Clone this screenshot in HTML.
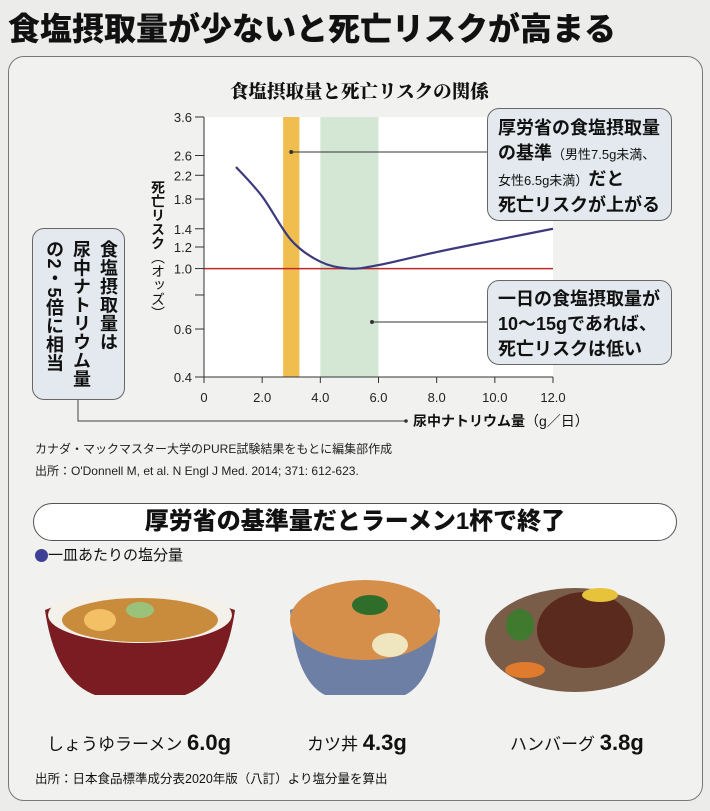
<!DOCTYPE html>
<html><head><meta charset="utf-8">
<style>
html,body{margin:0;padding:0}
body{width:710px;height:811px;background:#ececeb;position:relative;overflow:hidden;font-family:"Liberation Sans","Noto Sans CJK JP",sans-serif;color:#111}
.abs{position:absolute}
.box{position:absolute;background:#e3e9ee;border:1.5px solid #666;border-radius:12px;box-sizing:border-box}
</style></head>
<body>
<div class="abs" style="left:8px;top:9px;font-size:32px;font-weight:900;letter-spacing:0px;white-space:nowrap;line-height:40px">食塩摂取量が少ないと死亡リスクが高まる</div>
<div class="abs" style="left:8px;top:56px;width:695px;height:745px;border:1.5px solid #777;border-radius:16px;background:#f1f1f0;box-sizing:border-box"></div>

<div class="abs" style="left:230px;top:78px;font-family:'Noto Serif CJK SC','Noto Sans CJK JP',serif;font-weight:900;font-size:18.5px;white-space:nowrap">食塩摂取量と死亡リスクの関係</div>

<svg class="abs" style="left:0;top:0" width="710" height="480" id="chart"></svg>

<div class="abs" style="left:150px;top:180px;writing-mode:vertical-rl;font-size:14px;font-weight:700;line-height:16px">死亡リスク<span style="font-weight:400">（オッズ）</span></div>

<div class="box" style="left:32px;top:228px;width:93px;height:172px;"></div>
<div class="abs" style="left:40px;top:240px;height:160px;writing-mode:vertical-rl;font-size:18px;font-weight:700;line-height:27px;letter-spacing:0.5px">食塩摂取量は<br>尿中ナトリウム量<br>の2・5倍に相当</div>

<div class="box" style="left:487px;top:108px;width:185px;height:113px;padding:7px 0 0 10px;font-size:18px;font-weight:700;line-height:25px;white-space:nowrap">厚労省の食塩摂取量<br>の基準<span style="font-size:13px;font-weight:400">（男性7.5g未満、</span><br><span style="font-size:13px;font-weight:400">女性6.5g未満）</span>だと<br>死亡リスクが上がる</div>
<div class="box" style="left:487px;top:280px;width:185px;height:85px;padding:6px 0 0 10px;font-size:18px;font-weight:700;line-height:25px;white-space:nowrap">一日の食塩摂取量が<br>10〜15gであれば、<br>死亡リスクは低い</div>

<div class="abs" style="left:413px;top:411px;font-size:14px;font-weight:700;white-space:nowrap">尿中ナトリウム量<span style="font-weight:400">（g／日）</span></div>

<div class="abs" style="left:35px;top:440px;font-size:12px;color:#222;white-space:nowrap">カナダ・マックマスター大学のPURE試験結果をもとに編集部作成</div>
<div class="abs" style="left:35px;top:462px;font-size:12px;color:#222;white-space:nowrap">出所：O'Donnell M, et al. N Engl J Med. 2014; 371: 612-623.</div>

<div class="abs" style="left:33px;top:503px;width:644px;height:38px;border:1.5px solid #555;border-radius:20px;background:#fff;box-sizing:border-box;text-align:center;font-size:24px;font-weight:900;line-height:35px">厚労省の基準量だとラーメン1杯で終了</div>
<div class="abs" style="left:35px;top:546px;font-size:15px;white-space:nowrap;line-height:20px"><span style="display:inline-block;width:13px;height:13px;border-radius:50%;background:#3f3f95;vertical-align:-2px"></span>一皿あたりの塩分量</div>

<svg class="abs" style="left:0;top:580px" width="710" height="130">
 <g>
  <path d="M45 30 Q130 -5 235 30 Q225 100 185 115 L95 115 Q55 100 45 30Z" fill="#7a1c22"/>
  <ellipse cx="140" cy="35" rx="92" ry="28" fill="#f4f0ea"/>
  <ellipse cx="140" cy="40" rx="78" ry="22" fill="#c98b3c"/>
  <ellipse cx="100" cy="40" rx="16" ry="11" fill="#f3c066"/>
  <ellipse cx="140" cy="30" rx="14" ry="8" fill="#9ac27a"/>
 </g>
 <g>
  <path d="M290 30 Q365 0 440 30 Q435 100 405 115 L325 115 Q295 100 290 30Z" fill="#6e7fa6"/>
  <ellipse cx="365" cy="40" rx="75" ry="40" fill="#d58f4a"/>
  <ellipse cx="370" cy="25" rx="18" ry="10" fill="#2f6d2a"/>
  <ellipse cx="390" cy="65" rx="18" ry="12" fill="#efe6c0"/>
 </g>
 <g>
  <ellipse cx="575" cy="60" rx="90" ry="52" fill="#7a5d48"/>
  <ellipse cx="585" cy="50" rx="48" ry="38" fill="#5a2a1e"/>
  <ellipse cx="520" cy="45" rx="14" ry="16" fill="#3f7a2e"/>
  <ellipse cx="525" cy="90" rx="20" ry="8" fill="#e07a2c"/>
  <ellipse cx="600" cy="15" rx="18" ry="7" fill="#e6c33a"/>
 </g>
</svg>

<div class="abs" style="left:47px;top:730px;font-size:17px;white-space:nowrap">しょうゆラーメン <b style="font-size:22px">6.0g</b></div>
<div class="abs" style="left:307px;top:730px;font-size:17px;white-space:nowrap">カツ丼 <b style="font-size:22px">4.3g</b></div>
<div class="abs" style="left:510px;top:730px;font-size:17px;white-space:nowrap">ハンバーグ <b style="font-size:22px">3.8g</b></div>
<div class="abs" style="left:35px;top:768px;font-size:12.5px;white-space:nowrap">出所：日本食品標準成分表2020年版（八訂）より塩分量を算出</div>

<script>
const xTicks=[0,2,4,6,8,10,12];
const xTickLabels=["0","2.0","4.0","6.0","8.0","10.0","12.0"];
const yTicks=[0.4,0.6,0.8,1.0,1.2,1.4,1.8,2.2,2.6,3.6];
const yTickLabels=["0.4","0.6","","1.0","1.2","1.4","1.8","2.2","2.6","3.6"];
const curveX=[1.1,2,3,4,5,6,8,10,12];
const curveY=[2.36,1.84,1.27,1.06,1.0,1.03,1.15,1.27,1.40];
const bandOrange=[2.72,3.28];
const bandGreen=[4.0,6.0];
const refLine=1.0;

const NS="http://www.w3.org/2000/svg";
const svg=document.getElementById('chart');
const X0=204,X1=553,Y0=117,Y1=377;
const xs=v=>X0+(v-0)/(12-0)*(X1-X0);
const ys=v=>Y0+(Math.log(3.6)-Math.log(v))/(Math.log(3.6)-Math.log(0.4))*(Y1-Y0);
function mk(t,a){const e=document.createElementNS(NS,t);for(const k in a)e.setAttribute(k,a[k]);svg.appendChild(e);return e;}

let e=mk('rect',{x:X0,y:Y0,width:X1-X0,height:Y1-Y0,fill:'#fff'});


e=mk('rect',{x:xs(bandOrange[0]),y:Y0,width:xs(bandOrange[1])-xs(bandOrange[0]),height:Y1-Y0,fill:'#f0bd4f'});


e=mk('rect',{x:xs(bandGreen[0]),y:Y0,width:xs(bandGreen[1])-xs(bandGreen[0]),height:Y1-Y0,fill:'#d4e7d5'});


e=mk('line',{x1:X0,x2:X1,y1:ys(refLine),y2:ys(refLine),stroke:'#c0282a','stroke-width':1.5});



let pts=curveX.map((x,i)=>[xs(x),ys(curveY[i])]);
let d='M'+pts[0][0]+' '+pts[0][1];
for(let i=0;i<pts.length-1;i++){
 const p0=pts[i-1]||pts[i],p1=pts[i],p2=pts[i+1],p3=pts[i+2]||p2;
 d+=` C${p1[0]+(p2[0]-p0[0])/6} ${p1[1]+(p2[1]-p0[1])/6} ${p2[0]-(p3[0]-p1[0])/6} ${p2[1]-(p3[1]-p1[1])/6} ${p2[0]} ${p2[1]}`;
}
e=mk('path',{d:d,fill:'none',stroke:'#3c3a7e','stroke-width':2.2});



mk('line',{x1:X0,x2:X0,y1:Y0,y2:Y1,stroke:'#333','stroke-width':1});
mk('line',{x1:X0,x2:X1,y1:Y1,y2:Y1,stroke:'#333','stroke-width':1});
yTicks.forEach((v,i)=>{
 mk('line',{x1:X0-9,x2:X0,y1:ys(v),y2:ys(v),stroke:'#333'});
 const t=mk('text',{x:X0-12,y:ys(v)+5,'text-anchor':'end','font-size':13,fill:'#222','font-family':'Liberation Sans, sans-serif'});
 t.textContent=yTickLabels[i];
 
 
});
xTicks.forEach((v,i)=>{
 mk('line',{x1:xs(v),x2:xs(v),y1:Y1,y2:Y1+6,stroke:'#333'});
 const t=mk('text',{x:xs(v),y:Y1+25,'text-anchor':'middle','font-size':13,fill:'#222','font-family':'Liberation Sans, sans-serif'});
 t.textContent=xTickLabels[i];
 
 
});
mk('line',{x1:xs(3),x2:487,y1:152,y2:152,stroke:'#333','stroke-width':1});
mk('circle',{cx:xs(3),cy:152,r:2,fill:'#333'});
mk('line',{x1:372,x2:487,y1:322,y2:322,stroke:'#333','stroke-width':1});
mk('circle',{cx:372,cy:322,r:2,fill:'#333'});
mk('polyline',{points:'78,400 78,421 405,421',fill:'none',stroke:'#444','stroke-width':1});
mk('circle',{cx:406,cy:421,r:1.8,fill:'#333'});
</script>
</body></html>
